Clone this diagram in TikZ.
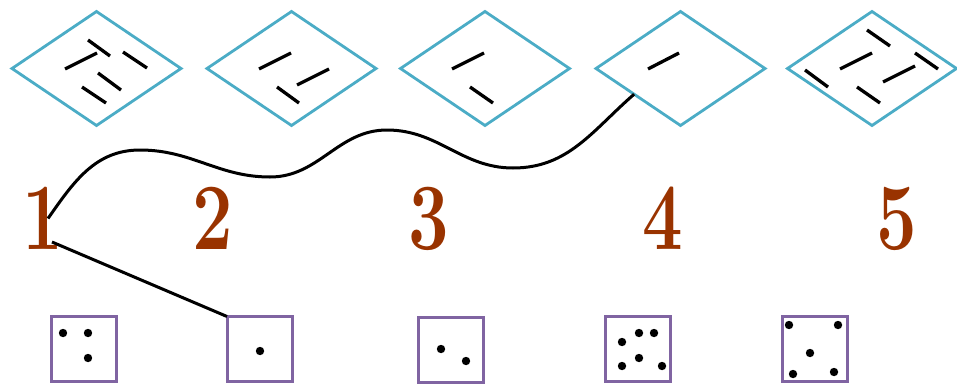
\documentclass[tikz,border=0pt]{standalone}
\usetikzlibrary{shapes.geometric}
\definecolor{dblue}{HTML}{4BACC6}
\definecolor{sqpurple}{HTML}{8064A2}
\definecolor{numbrown}{HTML}{993300}
\begin{document}
\begin{tikzpicture}[x=1pt,y=1pt,
  dia/.style={draw=dblue, line width=2.8pt, shape=diamond, inner sep=0pt, outer sep=0pt,
              minimum width=169pt, minimum height=114pt, line join=miter},
  sq/.style={draw=sqpurple, line width=3pt, rectangle, inner sep=0pt, outer sep=0pt,
             minimum width=65pt, minimum height=65pt},
  num/.style={text=numbrown, inner sep=0pt, outer sep=0pt,
              font=\bfseries\fontsize{95}{95}\selectfont},
  seg/.style={line width=3.3pt, black},
  conn/.style={line width=3pt, black},
  pip/.style={fill=black}]
\useasboundingbox (0,0) rectangle (957,-383);
% diamonds
\node[dia] (d1) at (96.5,-68.5) {};
\node[dia] (d2) at (291.5,-68.5) {};
\node[dia] (d3) at (485,-68.5) {};
\node[dia] (d4) at (680.5,-68.5) {};
\node[dia] (d5) at (872,-68.5) {};
% marks in diamonds
\draw[seg] (88,-40) -- (110,-56);
\draw[seg] (65,-69) -- (97,-53);
\draw[seg] (123,-52) -- (147,-68);
\draw[seg] (98,-73) -- (121,-90);
\draw[seg] (82,-87) -- (106,-103);
\draw[seg] (259,-69) -- (291,-53);
\draw[seg] (297,-85) -- (329,-69);
\draw[seg] (277,-87) -- (299,-103);
\draw[seg] (452,-69) -- (484,-53);
\draw[seg] (470,-87) -- (493,-103);
\draw[seg] (648,-69) -- (679,-53);
\draw[seg] (867,-30) -- (890,-46);
\draw[seg] (840,-69) -- (872,-53);
\draw[seg] (915,-53) -- (938,-69);
\draw[seg] (805,-70) -- (828,-87);
\draw[seg] (883,-82) -- (915,-66);
\draw[seg] (857,-87) -- (880,-103);
% numbers
\node[num] (n1) at (42.5,-218.5) {\scalebox{0.76}[1]{1}};
\node[num] (n2) at (213,-218.5) {\scalebox{0.76}[1]{2}};
\node[num] (n3) at (428.5,-218.5) {\scalebox{0.76}[1]{3}};
\node[num] (n4) at (662.5,-218.5) {\scalebox{0.76}[1]{4}};
\node[num] (n5) at (897,-218.5) {\scalebox{0.76}[1]{5}};
% squares
\node[sq] (s1) at (84,-349) {};
\node[sq] (s2) at (259.5,-349) {};
\node[sq] (s3) at (450.5,-350) {};
\node[sq] (s4) at (638,-349) {};
\node[sq] (s5) at (815,-349) {};
% pips
\foreach \p in {(63,-333),(88,-333),(88,-358),(260,-351),(441,-349),(466,-361),
  (622,-342),(639,-333),(654,-333),(622,-366),(639,-358),(662,-366),
  (789,-325),(838,-325),(810,-353),(793,-374),(834,-372)}
  \fill[pip] \p circle (4.2);
% connectors
\coordinate (w1) at (140,-150);
\coordinate (w2) at (270,-177);
\coordinate (w3) at (387,-130);
\coordinate (w4) at (513,-168);
\draw[conn] ([xshift=5.5pt]n1.center) to[out=55,in=180] (w1)
  to[out=0,in=180] (w2) to[out=0,in=180] (w3) to[out=0,in=180] (w4)
  to[out=0,in=221] (d4.209);
\draw[conn] ([xshift=9.5pt,yshift=-23.5pt]n1.center) -- (s2.north west);
\end{tikzpicture}
\end{document}
